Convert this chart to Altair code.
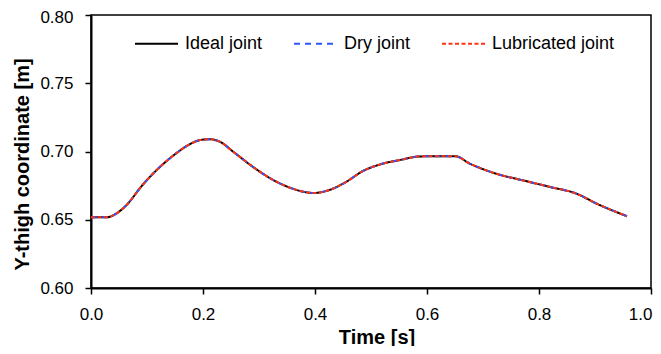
import altair as alt
import pandas as pd

time_s = [0.000, 0.028, 0.045, 0.064, 0.090, 0.120, 0.150, 0.175, 0.195, 0.212,
          0.230, 0.255, 0.290, 0.326, 0.360, 0.398, 0.427, 0.457, 0.486, 0.516,
          0.552, 0.588, 0.650, 0.677, 0.724, 0.772, 0.820, 0.867, 0.903, 0.957]
ideal = [0.6518, 0.6518, 0.6545, 0.6610, 0.6745, 0.6875, 0.6980, 0.7050, 0.7084, 0.7090,
         0.7072, 0.6995, 0.6885, 0.6790, 0.6728, 0.6696, 0.6720, 0.6781, 0.6858, 0.6905,
         0.6938, 0.6964, 0.6966, 0.6910, 0.6837, 0.6788, 0.6740, 0.6691, 0.6618, 0.6526]
dry = list(ideal)
lubricated = list(ideal)

series_names = ["Ideal joint", "Dry joint", "Lubricated joint"]
series_colors = ["#000000", "#2f55ff", "#ff3311"]
series_dash = [[1, 0], [6, 5], [4, 2.5]]

x_ticks = [0.0, 0.2, 0.4, 0.6, 0.8, 1.0]
y_ticks = [0.60, 0.65, 0.70, 0.75, 0.80]

rows = []
for name, vals in zip(series_names, [ideal, dry, lubricated]):
    for t, v in zip(time_s, vals):
        rows.append({"t": t, "y": v, "series": name})
df = pd.DataFrame(rows)

FONT = "Liberation Sans"

legend = alt.Legend(
    title=None, orient="none", legendX=43, legendY=6, direction="horizontal",
    columns=3, symbolType="stroke", symbolSize=1849, symbolStrokeWidth=2,
    labelFont=FONT, labelFontSize=18, labelColor="#000000", labelOffset=6,
    columnPadding=27, padding=0,
)

chart = alt.Chart(df).mark_line(strokeWidth=2, interpolate="monotone").encode(
    x=alt.X("t:Q", scale=alt.Scale(domain=[0, 1], nice=False),
            axis=alt.Axis(title="Time [s]", values=x_ticks, format=".1f", labelFlush=False,
                          labelAlign=alt.ExprRef(expr="datum.value >= 0.99 ? 'right' : 'center'"),
                          labelOffset=alt.ExprRef(expr="datum.value >= 0.99 ? 1 : 0"),
                          titleX=285.5, titleY=49, titleBaseline="middle", titleAlign="center")),
    y=alt.Y("y:Q", scale=alt.Scale(domain=[0.6, 0.8], nice=False, zero=False),
            axis=alt.Axis(title="Y-thigh coordinate [m]", values=y_ticks, format=".2f",
                          labelFlush=False,
                          labelOffset=alt.ExprRef(expr="datum.value >= 0.799 ? 2 : 0"),
                          titleX=-69, titleY=149, titleAngle=-90,
                          titleBaseline="middle", titleAlign="center")),
    color=alt.Color("series:N", scale=alt.Scale(domain=series_names, range=series_colors),
                    legend=legend),
    strokeDash=alt.StrokeDash("series:N", scale=alt.Scale(domain=series_names, range=series_dash),
                              legend=legend),
    order=alt.Order("t:Q"),
).properties(
    width=560, height=273,
    autosize=alt.AutoSizeParams(type="none"),
    padding={"left": 83, "top": 7, "right": 2, "bottom": 58},
).configure_view(
    stroke="#000000", strokeWidth=1.5,
).configure_axis(
    grid=False, domainColor="#000000", domainWidth=2, tickColor="#000000",
    tickWidth=1.5, tickSize=6, labelFont=FONT, labelFontSize=17, labelColor="#000000",
    labelPadding=12, titleFont=FONT, titleFontSize=20, titleFontWeight="bold",
    titleColor="#000000",
)

chart.save("out.html", embed_options={"renderer": "svg", "actions": False})
